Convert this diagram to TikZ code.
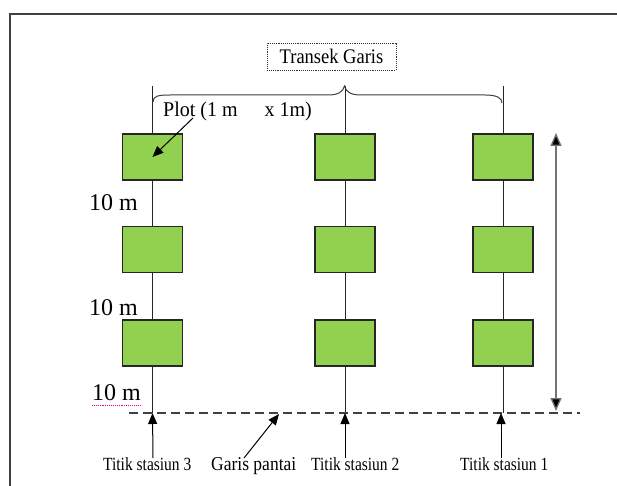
\documentclass[tikz,border=0pt]{standalone}
\usepackage{fontspec}
\usepackage{graphicx}
\setmainfont{Liberation Serif}
\usetikzlibrary{arrows.meta}
\definecolor{plotgreen}{HTML}{92D050}
\definecolor{framegray}{HTML}{404040}
\newcommand{\talltext}[2]{\scalebox{1}[#1]{#2}}
\begin{document}
\begin{tikzpicture}[x=1pt,y=-1pt,
  plotbox/.style={draw=black!85,fill=plotgreen,line width=1.1pt,minimum width=60pt,minimum height=46pt,inner sep=0pt},
  stemline/.style={draw=black!85,line width=1pt},
  ptr/.style={draw=black,line width=1pt,-{Triangle[length=11pt,width=9pt]}},
  lbl/.style={inner sep=0pt,anchor=base west,font=\fontsize{15.5}{17}\selectfont},
  tenm/.style={inner sep=0pt,anchor=base west,font=\fontsize{24}{26}\selectfont}]
\useasboundingbox (0,0) rectangle (617,486);
\fill[white] (0,0) rectangle (617,486);
% frame
\draw[framegray,line width=1.2pt] (10,500) -- (10,14) -- (640,14);
% title
\node[draw=black!80,densely dotted,line width=0.9pt,minimum width=129pt,minimum height=27pt,inner sep=0pt,
  font=\fontsize{18.5}{20}\selectfont] (title) at (331.5,56.5) {\talltext{1.12}{Transek Garis}};
% columns
\foreach \c/\x in {a/152.5,b/345,c/503}{
  \coordinate (\c top) at (\x,86);
  \coordinate (\c bot) at (\x,413);
  \node[plotbox] (\c1) at (\x,157) {};
  \node[plotbox] (\c2) at (\x,249.5) {};
  \node[plotbox] (\c3) at (\x,343) {};
  \draw[stemline] (\c top) -- (\c1) (\c1) -- (\c2) (\c2) -- (\c3) (\c3) -- (\c bot);
}
% brace
\draw[black!75,line width=1pt] (153,102) .. controls (153,96) and (158,95) .. (170,95) -- (328,95)
  .. controls (338,95) and (343,92) .. (344.5,86)
  .. controls (346,92) and (351,95) .. (361,95) -- (485,95)
  .. controls (497,95) and (502,98) .. (502,103);
% plot label
\node[inner sep=0pt,anchor=base west,font=\fontsize{20}{22}\selectfont] (plot) at (163,117) {\talltext{1.05}{Plot (1 m\hspace{27pt}x 1m)}};
\coordinate (plotarr) at (193,118);
\draw[ptr] (plotarr) -- (a1.center);
% 10 m labels
\node[tenm] (t1) at (89,211) {10 m};
\node[tenm] (t2) at (89,315) {10 m};
\node[tenm] (t3) at (92,400) {10 m};
\draw[magenta,densely dotted,line width=0.9pt] (t3.south west) ++(0,5) -- ++(49,0);
% shoreline
\coordinate (shoreL) at (129,413);
\coordinate (shoreR) at (580,413);
\draw[black!75,line width=1.2pt,dash pattern=on 9pt off 5pt] (shoreL) -- (shoreR);
% right double arrow
\coordinate (rtop) at (556,133);
\coordinate (rbot) at (556,411);
\draw[black!55,line width=1.3pt,{Triangle[length=13pt,width=11pt,fill=black]}-{Triangle[length=13pt,width=11pt,fill=black]}] (rtop) -- (rbot);
% bottom labels
\node[lbl] (s3) at (103,470) {\talltext{1.2}{Titik stasiun 3}};
\node[inner sep=0pt,anchor=base west,font=\fontsize{17.5}{19}\selectfont] (gp) at (211,470) {\talltext{1.12}{Garis pantai}};
\node[lbl] (s2) at (311,470) {\talltext{1.2}{Titik stasiun 2}};
\node[lbl] (s1) at (460,470) {\talltext{1.2}{Titik stasiun 1}};
\coordinate (gptip) at (279,414);
\coordinate (s1tip) at (501,413);
\coordinate (s3a) at (153,458);
\coordinate (gpa) at (244,458);
\coordinate (s2a) at (345,458);
\coordinate (s1a) at (501,458);
\draw[ptr] (s3a) -- (abot);
\draw[ptr] (gpa) -- (gptip);
\draw[ptr] (s2a) -- (bbot);
\draw[ptr] (s1a) -- (s1tip);
\end{tikzpicture}
\end{document}
